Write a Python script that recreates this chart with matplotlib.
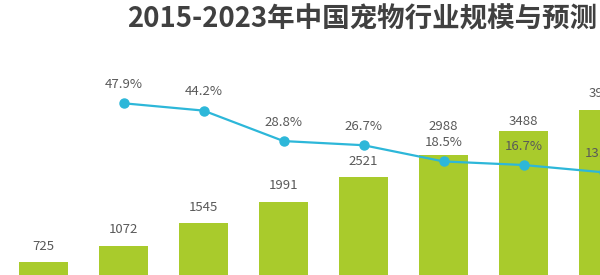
import matplotlib
matplotlib.use("Agg")
import matplotlib.pyplot as plt
import numpy as np

plt.rcParams['font.family'] = ['Noto Sans CJK SC', 'DejaVu Sans']

years = ['2015', '2016', '2017', '2018', '2019', '2020', '2021', '2022']
market_size = [725, 1072, 1545, 1991, 2521, 2988, 3488, 3942]
growth = [None, 47.9, 44.2, 28.8, 26.7, 18.5, 16.7, 13.0]
title = '2015-2023年中国宠物行业规模与预测'

bar_color = '#A9CB2C'
line_color = '#2DB7D9'
text_color = '#595959'

fig = plt.figure(figsize=(6, 2.75), dpi=100)
ax = fig.add_axes([0, 0, 1, 1])
x = np.arange(len(years))
ax.bar(x, market_size, width=0.6125, color=bar_color, zorder=1)
ax.set_xlim(-0.544, 6.956)
ax.set_ylim(451, 6252)
ax.axis('off')

# bar labels: offsets in pixels above bar top
bar_offsets = [16, 16, 16, 16, 15, 28, 10, 16]
for xi, v, off in zip(x, market_size, bar_offsets):
    ax.annotate(str(v), (xi, v), xytext=(0, off), textcoords='offset pixels',
                ha='center', va='center', fontsize=9.5, color=text_color, zorder=5,
                annotation_clip=False)

ax2 = ax.twinx()
ax2.set_ylim(-38.9, 100.1)
ax2.axis('off')
gx = [xi for xi, g in zip(x, growth) if g is not None]
gy = [g for g in growth if g is not None]
ax2.plot(gx, gy, color=line_color, lw=1.6, marker='o', markersize=6.5, zorder=3)
for xi, g in zip(gx, gy):
    ax2.annotate(f'{g:.1f}%', (xi, g), xytext=(0, 19), textcoords='offset pixels',
                 ha='center', va='center', fontsize=9.5, color=text_color, zorder=5,
                 annotation_clip=False)

fig.text(127 / 600, 1 - 19 / 275, title, ha='left', va='center', fontsize=19.8,
         fontweight='bold', color='#404040')

fig.savefig('out.png', dpi=100)
